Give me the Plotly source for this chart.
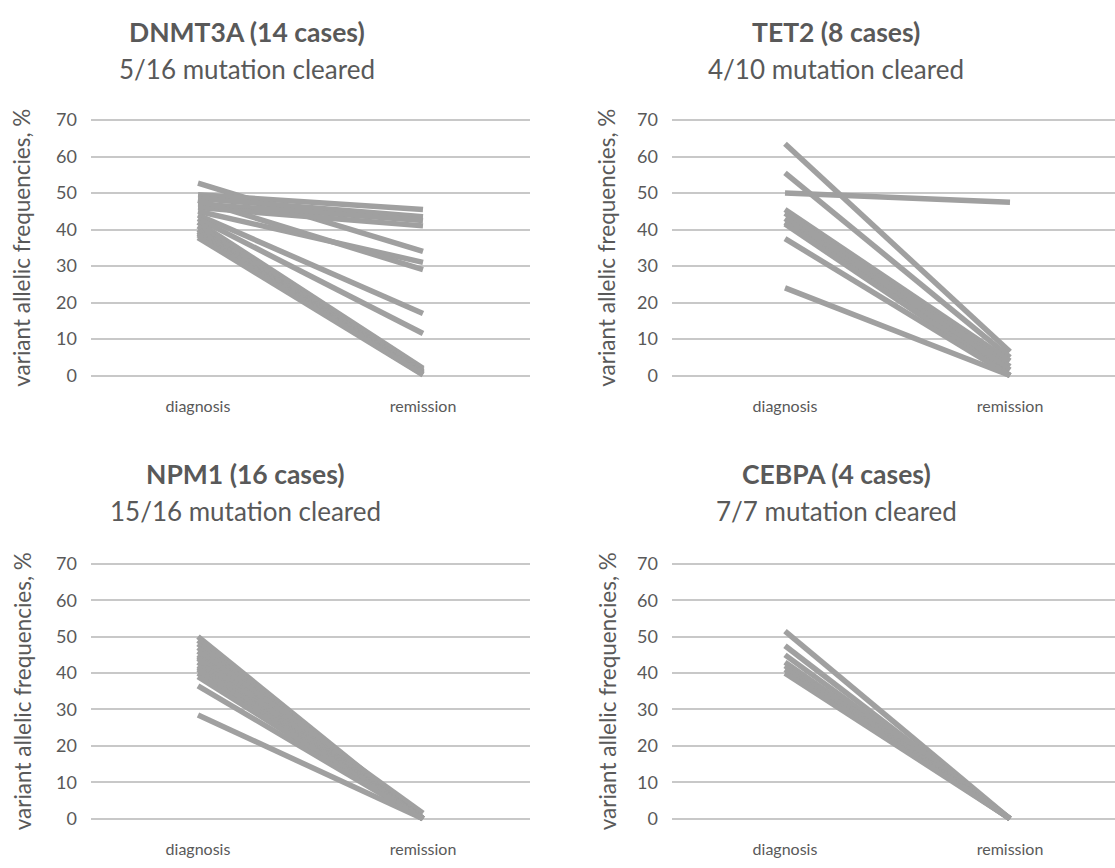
import plotly.graph_objects as go

W, H = 1115, 868
stages = ["diagnosis", "remission"]
y_ticks = [0, 10, 20, 30, 40, 50, 60, 70]

dnmt3a_title = "DNMT3A (14 cases)"
dnmt3a_sub = "5/16 mutation cleared"
dnmt3a_diag = [52.7, 49.5, 48.5, 47.0, 46.0, 45.0, 48.0, 44.0, 43.0, 42.0, 41.0, 40.0, 39.5, 39.0, 38.5, 37.8]
dnmt3a_rem = [34.0, 45.5, 43.5, 42.5, 41.0, 31.0, 29.0, 17.0, 11.5, 2.0, 1.5, 1.0, 0.8, 0.5, 0.3, 0.2]

tet2_title = "TET2 (8 cases)"
tet2_sub = "4/10 mutation cleared"
tet2_diag = [63.5, 55.5, 50.0, 45.5, 44.5, 43.0, 42.0, 41.5, 37.5, 24.0]
tet2_rem = [6.5, 5.0, 47.5, 4.0, 2.5, 1.5, 0.0, 0.0, 0.0, 0.0]

npm1_title = "NPM1 (16 cases)"
npm1_sub = "15/16 mutation cleared"
npm1_diag = [50.0, 49.0, 48.0, 47.0, 46.0, 45.0, 44.5, 44.0, 43.0, 42.0, 41.5, 41.0, 40.0, 39.0, 36.5, 28.5]
npm1_rem = [0.0, 0.0, 0.0, 0.0, 1.5, 0.0, 0.0, 0.0, 0.0, 0.0, 0.0, 0.0, 0.0, 0.0, 0.0, 0.0]

cebpa_title = "CEBPA (4 cases)"
cebpa_sub = "7/7 mutation cleared"
cebpa_diag = [51.5, 47.5, 45.0, 43.0, 42.0, 41.0, 40.0]
cebpa_rem = [0.0, 0.0, 0.0, 0.0, 0.0, 0.0, 0.0]

y_title = "variant allelic frequencies, %"

FONT = "Lato"
TXT = "#595959"
LINE = "#A0A0A0"
GRID = "#C8C8C8"

def px_x(x):
    return x / W

def px_y(y):
    return 1 - y / H

# pixel geometry per panel: (plot_left, plot_right, y0_px, y70_px, x_diag_px, title_x, title_y1, title_y2, ytitle_x)
geom = [
    (91, 530, 374.0, 114.0, 198, 247, 24, 62, 22),
    (672, 1115, 374.0, 114.0, 785, 836, 24, 62, 607),
    (91, 530, 825.0, 565.6, 198, 245, 474, 512, 22),
    (672, 1115, 825.0, 565.6, 785, 836, 474, 512, 607),
]
panels = [
    (dnmt3a_title, dnmt3a_sub, dnmt3a_diag, dnmt3a_rem),
    (tet2_title, tet2_sub, tet2_diag, tet2_rem),
    (npm1_title, npm1_sub, npm1_diag, npm1_rem),
    (cebpa_title, cebpa_sub, cebpa_diag, cebpa_rem),
]

fig = go.Figure()
annotations = []
layout = {}
for i, ((title, sub, diag, rem), g) in enumerate(zip(panels, geom), start=1):
    pl, pr, y0, y70, xd, tx, ty1, ty2, ytx = g
    sfx = "" if i == 1 else str(i)
    for d, r in zip(diag, rem):
        fig.add_trace(go.Scatter(
            x=stages, y=[d, r], mode="lines",
            line=dict(color=LINE, width=5.5),
            xaxis="x" + sfx, yaxis="y" + sfx,
            showlegend=False, hoverinfo="skip",
        ))
    unit = (y0 - y70) / 70.0
    bot = y0 + unit * 1.0
    top = y70 - unit * 1.0
    xunit = 225.0
    xr0 = -(xd - pl) / xunit
    xr1 = (pr - xd) / xunit
    layout["xaxis" + sfx] = dict(
        domain=[px_x(pl), min(1.0, px_x(pr))],
        type="category", range=[xr0, xr1],
        showgrid=False, zeroline=False, showline=False, ticks="",
        tickfont=dict(family=FONT, size=16, color=TXT),
        ticklabelstandoff=16,
        anchor="y" + sfx, fixedrange=True,
    )
    layout["yaxis" + sfx] = dict(
        domain=[px_y(bot), px_y(top)],
        range=[-1, 71], tickvals=y_ticks,
        showgrid=True, gridcolor=GRID, gridwidth=2,
        zeroline=True, zerolinecolor=GRID, zerolinewidth=2,
        showline=False, ticks="",
        tickfont=dict(family=FONT, size=18, color=TXT),
        ticklabelstandoff=13,
        anchor="x" + sfx, fixedrange=True,
    )
    annotations.append(dict(
        text="<b>" + title + "</b>", x=px_x(tx), y=px_y(ty1), xref="paper", yref="paper",
        xanchor="center", yanchor="middle", showarrow=False,
        font=dict(family=FONT, size=26.5, color=TXT),
    ))
    annotations.append(dict(
        text=sub, x=px_x(tx), y=px_y(ty2), xref="paper", yref="paper",
        xanchor="center", yanchor="middle", showarrow=False,
        font=dict(family=FONT, size=26, color=TXT),
    ))
    annotations.append(dict(
        text=y_title, x=px_x(ytx), y=px_y((y0 + y70) / 2), xref="paper", yref="paper",
        xanchor="center", yanchor="middle", showarrow=False, textangle=-90,
        font=dict(family=FONT, size=22.5, color=TXT),
    ))

fig.update_layout(
    width=W, height=H,
    margin=dict(l=0, r=0, t=0, b=0),
    paper_bgcolor="white", plot_bgcolor="white",
    annotations=annotations,
    **layout,
)
fig.write_html(
    "out.html",
    config={"displayModeBar": False, "staticPlot": True},
    post_script="document.body.style.margin='0px';document.body.style.padding='0px';document.body.style.overflow='hidden';",
)
